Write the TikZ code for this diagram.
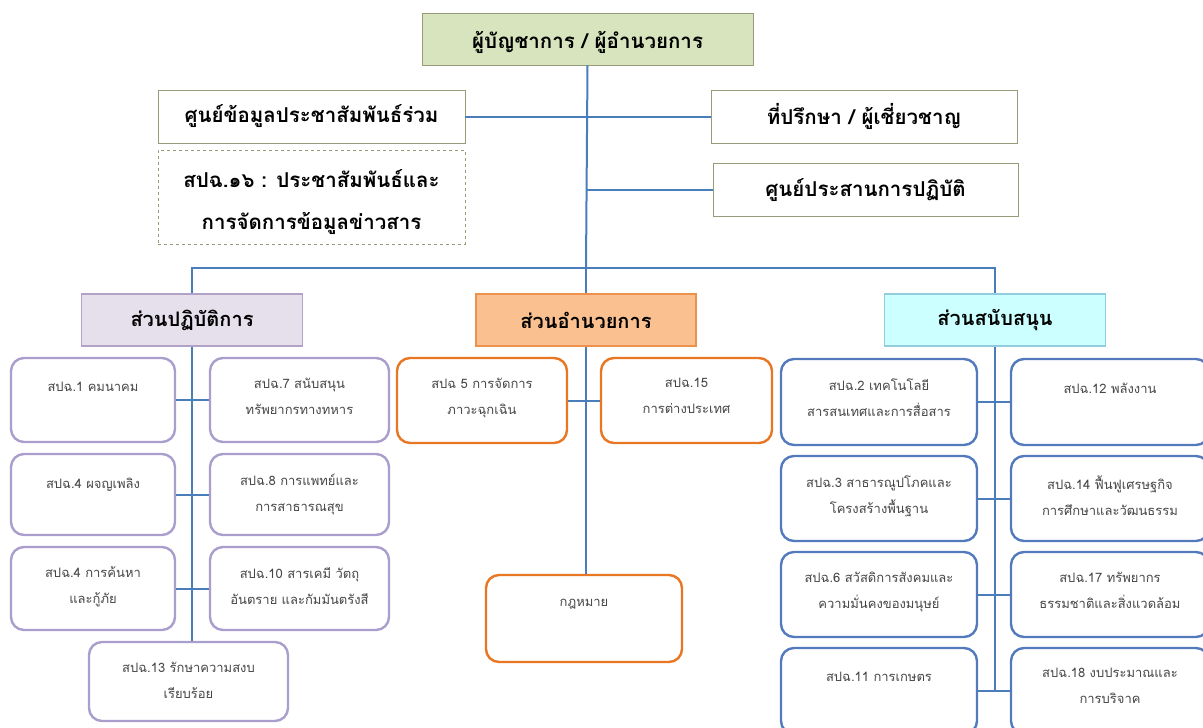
\documentclass[tikz,border=0pt]{standalone}
\usepackage{fontspec}
\setmainfont{Loma}[Script=Thai]
\newfontfamily\thaifont[Script=Thai]{Loma}
\definecolor{linkblue}{RGB}{74,126,187}
\definecolor{topgreen}{RGB}{215,228,189}
\definecolor{oliveedge}{RGB}{150,155,120}
\definecolor{lavfill}{RGB}{229,224,236}
\definecolor{lavedge}{RGB}{178,162,199}
\definecolor{orfill}{RGB}{250,192,144}
\definecolor{oredge}{RGB}{232,118,34}
\definecolor{cyfill}{RGB}{204,255,255}
\definecolor{cyedge}{RGB}{147,205,221}
\definecolor{pedge}{RGB}{170,158,205}
\definecolor{bedge}{RGB}{84,122,190}
\definecolor{smalltext}{RGB}{70,70,70}
\tikzset{
  conn/.style={draw=linkblue, line width=2pt},
  headbox/.style={draw=oliveedge, line width=0.9pt, inner sep=0pt, font=\bfseries\fontsize{20.5}{42}\selectfont},
  divbox/.style={line width=1.1pt, inner sep=0pt, font=\bfseries\fontsize{20}{24}\selectfont},
  rbox/.style={rounded corners=13pt, line width=2.4pt, fill=white, inner sep=0pt},
  pbox/.style={rbox, draw=pedge},
  obox/.style={rbox, draw=oredge},
  bbox/.style={rbox, draw=bedge},
  btext/.style={anchor=north, inner sep=0pt, align=center, text=smalltext, font=\fontsize{13}{26}\selectfont, yshift=-25pt},
}
\begin{document}
\begin{tikzpicture}[x=1pt,y=-1pt]
\useasboundingbox (0,0) rectangle (1203,728);
% top section
\node[headbox, fill=topgreen, minimum width=331, minimum height=52] (top) at (587.5,39) {};
\node[inner sep=0pt, font=\bfseries\fontsize{20.5}{42}\selectfont] (toptext) at ([yshift=-3pt]top.center) {ผู้บัญชาการ / ผู้อำนวยการ};
\node[headbox, fill=white, minimum width=307, minimum height=53] (info) at (311.5,116.5) {ศูนย์ข้อมูลประชาสัมพันธ์ร่วม};
\node[headbox, draw=oliveedge, dashed, line width=0.7pt, fill=white, minimum width=307, minimum height=94] (pr) at (311.5,197) {};
\node[inner sep=0pt, align=center, font=\bfseries\fontsize{20.5}{42}\selectfont] (prtext) at ([yshift=-5pt]pr.center) {สปฉ.๑๖ : ประชาสัมพันธ์และ\\การจัดการข้อมูลข่าวสาร};
\node[headbox, fill=white, minimum width=306, minimum height=53] (adv) at (864,116.5) {ที่ปรึกษา / ผู้เชี่ยวชาญ};
\node[headbox, fill=white, minimum width=305, minimum height=53] (coord) at (865.5,190) {ศูนย์ประสานการปฏิบัติ};
\coordinate (bus) at (586,268);
% divisions
\node[divbox, draw=lavedge, fill=lavfill, minimum width=221, minimum height=52] (divL) at (192,320) {ส่วนปฏิบัติการ};
\node[divbox, draw=oredge!80, fill=orfill, minimum width=220, minimum height=52] (divM) at (586,320) {ส่วนอำนวยการ};
\node[divbox, draw=cyedge, fill=cyfill, minimum width=221, minimum height=52] (divR) at (995,320) {ส่วนสนับสนุน};
% connectors top
\draw[conn] (top.south) -- (bus);
\draw[conn] (info) -- (adv);
\draw[conn] (coord.west) -- (coord.west -| bus);
\draw[conn] (divL.north) -- (divL.north |- bus) -- (divR.north |- bus) -- (divR.north);
\draw[conn] (bus) -- (divM.north);
% left column boxes
\node[pbox, minimum width=164, minimum height=84] (L1) at (93,400) {};
\node[pbox, minimum width=179, minimum height=84] (L7) at (299.5,400) {};
\node[pbox, minimum width=164, minimum height=81] (L4) at (93,494.5) {};
\node[pbox, minimum width=179, minimum height=81] (L8) at (299.5,494.5) {};
\node[pbox, minimum width=164, minimum height=83] (L4b) at (93,588.5) {};
\node[pbox, minimum width=179, minimum height=83] (L10) at (299.5,588.5) {};
\node[pbox, minimum width=199, minimum height=79] (L13) at (188.5,681.5) {};
\draw[conn] (divL.south) -- (divL.south |- L13.north);
\draw[conn] (L1) -- (L7);
\draw[conn] (L4) -- (L8);
\draw[conn] (L4b) -- (L10);
\node[btext] (tL1) at (L1.north) {สปฉ.1 คมนาคม};
\node[btext, yshift=4pt] (tL7) at (L7.north) {สปฉ.7 สนับสนุน\\ทรัพยากรทางทหาร};
\node[btext] (tL4) at (L4.north) {สปฉ.4 ผจญเพลิง};
\node[btext, yshift=4pt] (tL8) at (L8.north) {สปฉ.8 การแพทย์และ\\การสาธารณสุข};
\node[btext, yshift=4pt] (tL4b) at (L4b.north) {สปฉ.4 การค้นหา\\และกู้ภัย};
\node[btext, yshift=4pt] (tL10) at (L10.north) {สปฉ.10 สารเคมี วัตถุ\\อันตราย และกัมมันตรังสี};
\node[btext, yshift=4pt] (tL13) at (L13.north) {สปฉ.13 รักษาความสงบ\\เรียบร้อย};
% middle column
\node[obox, minimum width=170, minimum height=85] (M5) at (482,400.5) {};
\node[obox, minimum width=171, minimum height=85] (M15) at (686.5,400.5) {};
\node[obox, minimum width=196, minimum height=87] (law) at (584,618.5) {};
\draw[conn] (divM.south) -- (divM.south |- law.north);
\draw[conn] (M5) -- (M15);
\node[btext, yshift=4pt] (tM5) at (M5.north) {สปฉ 5 การจัดการ\\ภาวะฉุกเฉิน};
\node[btext, yshift=4pt] (tM15) at (M15.north) {สปฉ.15\\การต่างประเทศ};
\node[btext] (tlaw) at (law.north) {กฎหมาย};
% right column
\node[bbox, minimum width=196, minimum height=86] (R2) at (879,402) {};
\node[bbox, minimum width=198, minimum height=86] (R12) at (1110,402) {};
\node[bbox, minimum width=196, minimum height=85] (R3) at (879,498.5) {};
\node[bbox, minimum width=198, minimum height=85] (R14) at (1110,498.5) {};
\node[bbox, minimum width=196, minimum height=85] (R6) at (879,594.5) {};
\node[bbox, minimum width=198, minimum height=85] (R17) at (1110,594.5) {};
\node[bbox, minimum width=196, minimum height=86] (R11) at (879,691) {};
\node[bbox, minimum width=198, minimum height=86] (R18) at (1110,691) {};
\draw[conn] (divR.south) -- (divR.south |- R11.east);
\draw[conn] (R2) -- (R12);
\draw[conn] (R3) -- (R14);
\draw[conn] (R6) -- (R17);
\draw[conn] (R11) -- (R18);
\node[btext, yshift=4pt] (tR2) at (R2.north) {สปฉ.2 เทคโนโลยี\\สารสนเทศและการสื่อสาร};
\node[btext] (tR12) at (R12.north) {สปฉ.12 พลังงาน};
\node[btext, yshift=4pt] (tR3) at (R3.north) {สปฉ.3 สาธารณูปโภคและ\\โครงสร้างพื้นฐาน};
\node[btext, yshift=4pt] (tR14) at (R14.north) {สปฉ.14 ฟื้นฟูเศรษฐกิจ\\การศึกษาและวัฒนธรรม};
\node[btext, yshift=4pt] (tR6) at (R6.north) {สปฉ.6 สวัสดิการสังคมและ\\ความมั่นคงของมนุษย์};
\node[btext, yshift=4pt] (tR17) at (R17.north) {สปฉ.17 ทรัพยากร\\ธรรมชาติและสิ่งแวดล้อม};
\node[btext] (tR11) at (R11.north) {สปฉ.11 การเกษตร};
\node[btext, yshift=4pt] (tR18) at (R18.north) {สปฉ.18 งบประมาณและ\\การบริจาค};
\end{tikzpicture}
\end{document}
